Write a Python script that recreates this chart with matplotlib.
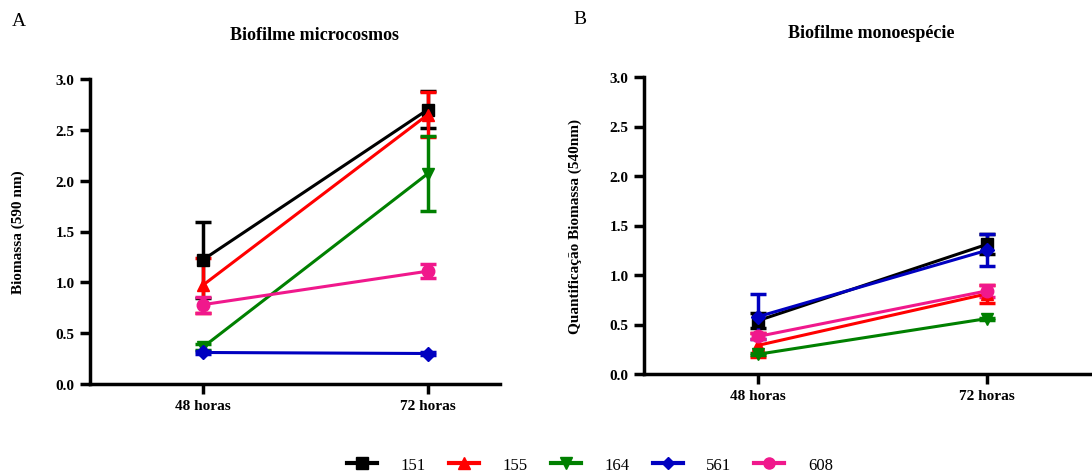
import matplotlib
matplotlib.use('Agg')
import matplotlib.pyplot as plt
from matplotlib.lines import Line2D

plt.rcParams['font.family'] = ['Liberation Serif', 'DejaVu Serif']

# data
times = ['48 horas', '72 horas']
strains = ['151', '155', '164', '561', '608']
colors = ['#000000', '#ff0000', '#008000', '#0000c0', '#f0188c']
markers = ['s', '^', 'v', 'D', 'o']
marker_sizes = [9, 9, 9, 7, 9]

# panel A - microcosmos
micro_mean = [[1.22, 2.70], [0.97, 2.65], [0.36, 2.07], [0.31, 0.30], [0.78, 1.11]]
micro_err = [[0.37, 0.18], [0.27, 0.22], [0.03, 0.37], [0.01, 0.01], [0.08, 0.07]]

# panel B - monoespecie
mono_mean = [[0.54, 1.31], [0.29, 0.81], [0.20, 0.56], [0.58, 1.25], [0.38, 0.84]]
mono_err = [[0.08, 0.10], [0.12, 0.09], [0.01, 0.01], [0.23, 0.16], [0.03, 0.06]]

yticks = [0.0, 0.5, 1.0, 1.5, 2.0, 2.5, 3.0]

fig = plt.figure(figsize=(10.92, 4.77), dpi=100)
W, H = 1092.0, 477.0


def setup_axes(ax, xmax):
    ax.set_xlim(-0.5, xmax)
    ax.set_ylim(0, 3.0)
    ax.spines['top'].set_visible(False)
    ax.spines['right'].set_visible(False)
    for s in ['left', 'bottom']:
        ax.spines[s].set_linewidth(2.5)
    ax.set_xticks([0, 1])
    ax.set_xticklabels(times)
    ax.set_yticks(yticks)
    ax.set_yticklabels(['%.1f' % v for v in yticks])
    ax.tick_params(width=2.5, length=7, labelsize=11, pad=4)
    for lab in ax.get_xticklabels() + ax.get_yticklabels():
        lab.set_fontweight('bold')


def draw(ax, means, errs):
    for i in range(len(strains)):
        ax.errorbar([0, 1], means[i], yerr=errs[i], color=colors[i],
                    marker=markers[i], markersize=marker_sizes[i], linewidth=2.2,
                    elinewidth=2.5, capsize=6, capthick=2.5, clip_on=False, zorder=3)


ax1 = fig.add_axes([90 / W, 1 - 385 / H, (500 - 90) / W, (385 - 80) / H])
draw(ax1, micro_mean, micro_err)
setup_axes(ax1, 1.32)
ax1.set_ylabel('Biomassa (590 nm)', fontweight='bold', fontsize=11, labelpad=22)

ax2 = fig.add_axes([644 / W, 1 - 375 / H, (1090 - 644) / W, (375 - 78) / H])
draw(ax2, mono_mean, mono_err)
setup_axes(ax2, 1.45)
ax2.set_ylabel('Quantificação Biomassa (540nm)', fontweight='bold', fontsize=11, labelpad=20)

fig.text(315 / W, 1 - 36 / H, 'Biofilme microcosmos', ha='center', va='center',
         fontweight='bold', fontsize=13)
fig.text(871 / W, 1 - 34 / H, 'Biofilme monoespécie', ha='center', va='center',
         fontweight='bold', fontsize=13)
fig.text(12 / W, 1 - 22 / H, 'A', ha='left', va='center', fontsize=14)
fig.text(573 / W, 1 - 20 / H, 'B', ha='left', va='center', fontsize=14)

handles = [Line2D([], [], color=colors[i], marker=markers[i], markersize=marker_sizes[i] - 1,
                  linewidth=3) for i in range(len(strains))]
fig.legend(handles, strains, loc='center', bbox_to_anchor=(590 / W, 1 - 466 / H),
           ncol=5, frameon=False, fontsize=12, handlelength=1.8, columnspacing=1.4,
           handletextpad=1.4)

fig.savefig('out.png', dpi=100)
